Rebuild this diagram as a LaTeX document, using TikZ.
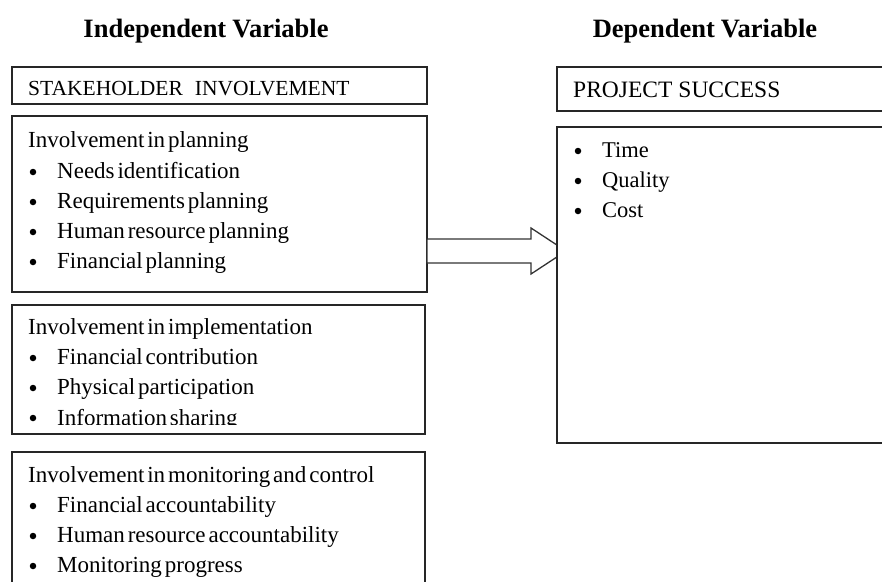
\documentclass[tikz,border=0pt]{standalone}
\usepackage{fontspec}
\setmainfont[WordSpace=0.5]{Liberation Serif}
\usetikzlibrary{calc}
\begin{document}
\begin{tikzpicture}[x=1pt,y=-1pt,
  frame/.style={draw=black!85, line width=1.5pt, fill=white, inner sep=0pt, outer sep=0pt},
  txt/.style={anchor=base west, inner sep=0pt, font=\fontsize{23}{27}\selectfont},
  rtxt/.style={anchor=base west, inner sep=0pt, font=\fontsize{22.5}{27}\selectfont},
  dot/.style={circle, fill=black, inner sep=0pt, minimum size=6.5pt},
  title/.style={anchor=base, inner sep=0pt, font=\fontsize{26.5}{30}\selectfont\bfseries},
  bigarrow/.style={draw=black!80, line width=1.3pt, fill=white, line join=miter}]
\clip (0,0) rectangle (882,581);
\useasboundingbox (0,0) rectangle (882,581);

% column headings
\node[title] (indep) at (206,37) {Independent\kern6pt Variable};
\node[title] (dep) at (705,37) {Dependent\kern6pt Variable};

% left column frames
\node[frame, anchor=north west, minimum width=415pt, minimum height=37pt] (sh) at (12,67) {};
\node[frame, anchor=north west, minimum width=415pt, minimum height=176pt] (plan) at (12,116) {};
\node[frame, anchor=north west, minimum width=413pt, minimum height=129pt] (impl) at (12,305) {};
\node[frame, anchor=north west, minimum width=413pt, minimum height=160pt] (mon) at (12,452) {};

% block arrow from the planning frame to the outcome frame
\coordinate (tail) at ($(plan.east)+(0,47)$);
\draw[bigarrow] (tail) ++(0,-12) -- ++(104,0) -- ++(0,-11) -- ++(35,23) -- ++(-35,23) -- ++(0,-11) -- ++(-104,0) -- cycle;

% right column frames
\node[frame, anchor=north west, minimum width=340pt, minimum height=44pt] (ps) at (557,67) {};
\node[frame, anchor=north west, minimum width=340pt, minimum height=316pt] (psbody) at (557,127) {};

% stakeholder involvement
\node[txt, font=\fontsize{21.5}{26}\selectfont] (shl) at (28,95) {STAKEHOLDER\kern12pt INVOLVEMENT};

\node[txt] (planh) at (28,147) {Involvement in planning};
\node[dot] (pb1) at (33,172) {}; \node[txt] (p1) at (57,178) {Needs identification};
\node[dot] (pb2) at (33,202) {}; \node[txt] (p2) at (57,208) {Requirements planning};
\node[dot] (pb3) at (33,232) {}; \node[txt] (p3) at (57,238) {Human resource planning};
\node[dot] (pb4) at (33,262) {}; \node[txt] (p4) at (57,268) {Financial planning};

\node[txt] (implh) at (28,334) {Involvement in implementation};
\node[dot] (ib1) at (33,358) {}; \node[txt] (i1) at (57,364) {Financial contribution};
\node[dot] (ib2) at (33,388) {}; \node[txt] (i2) at (57,394) {Physical participation};
\node[dot] (ib3) at (33,418) {};
\begin{scope}
  \clip (12,300) rectangle (425,424);
  \node[txt] (i3) at (57,425) {Information sharing};
\end{scope}

\node[txt] (monh) at (28,482) {Involvement in monitoring and control};
\node[dot] (mb1) at (33,506) {}; \node[txt] (m1) at (57,512) {Financial accountability};
\node[dot] (mb2) at (33,536) {}; \node[txt] (m2) at (57,542) {Human resource accountability};
\node[dot] (mb3) at (33,566) {}; \node[txt] (m3) at (57,572) {Monitoring progress};

% project success
\node[rtxt, font=\fontsize{23.5}{28}\selectfont] (psl) at (573,97) {PROJECT\kern6pt SUCCESS};
\node[dot] (sb1) at (578,151) {}; \node[rtxt] (s1) at (602,157) {Time};
\node[dot] (sb2) at (578,181) {}; \node[rtxt] (s2) at (602,187) {Quality};
\node[dot] (sb3) at (578,211) {}; \node[rtxt] (s3) at (602,217) {Cost};
\end{tikzpicture}
\end{document}
